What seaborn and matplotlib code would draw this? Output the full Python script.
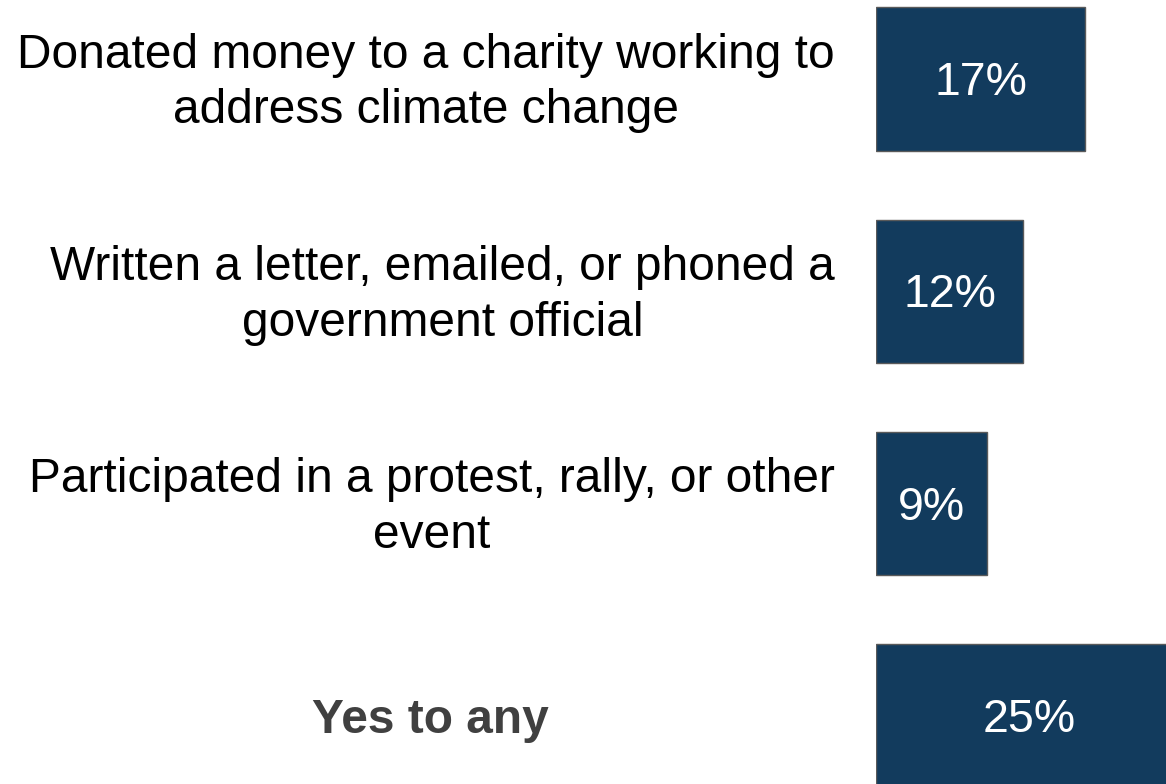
import numpy as np
import pandas as pd
import matplotlib
matplotlib.use("Agg")
import matplotlib.pyplot as plt
import matplotlib.transforms as mtransforms
import seaborn as sns

categories = [
    "Donated money to a charity working to\naddress climate change",
    "Written a letter, emailed, or phoned a\ngovernment official",
    "Participated in a protest, rally, or other\nevent",
    "Yes to any",
]
values = [17, 12, 9, 25]
value_labels = ["17%", "12%", "9%", "25%"]

sns.set_theme(style="white")
plt.rcParams["font.family"] = ["Liberation Sans", "DejaVu Sans"]

df = pd.DataFrame({"item": categories, "pct": values})

fig = plt.figure(figsize=(11.66, 7.84), dpi=100)
W, H = 1166, 784
ax = fig.add_axes([876 / W, 0, 1 - 876 / W, 1])

sns.barplot(data=df, y="item", x="pct", orient="h", color="#123B5D",
            saturation=1, width=0.675, edgecolor="#5a5a5a", linewidth=1.0, ax=ax)

ax.set_xlim(0, 23.6)
ax.set_ylim(3.32, -0.372)
ax.set_xticks([])
ax.set_yticks([])
ax.set_xlabel("")
ax.set_ylabel("")
for s in ax.spines.values():
    s.set_visible(False)

# nudge all text a few pixels down
shift = mtransforms.ScaledTranslation(0, -4 / 100, fig.dpi_scale_trans)

for i, (v, lab) in enumerate(zip(values, value_labels)):
    ax.text(v / 2, i, lab, ha="center", va="center", color="white", fontsize=33.5,
            transform=ax.transData + shift)

# category labels on the left, in figure space
for i, cat in enumerate(categories):
    y_disp = ax.transData.transform((0, i))[1]
    y_fig = y_disp / fig.dpi / fig.get_size_inches()[1]
    if i == len(categories) - 1:
        fig.text(430 / W, y_fig, cat, ha="center", va="center", fontsize=34.5,
                 fontweight="bold", color="#404040", transform=fig.transFigure + shift)
    else:
        fig.text(835 / W, y_fig, cat, ha="right", va="center", ma="center",
                 fontsize=34.5, color="black", linespacing=1.3,
                 transform=fig.transFigure + shift)

fig.savefig("out.png", dpi=100)
